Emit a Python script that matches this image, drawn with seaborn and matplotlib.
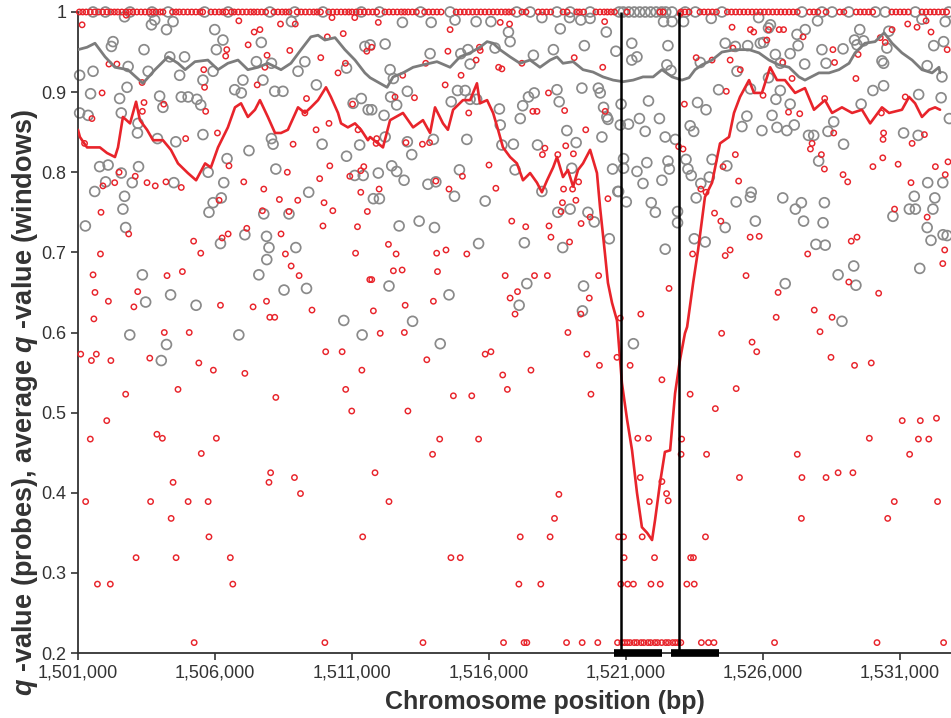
import numpy as np
import pandas as pd
import seaborn as sns
import matplotlib.pyplot as plt
from matplotlib.ticker import FuncFormatter

# positions are kb offsets from 1,501,000 bp
START = 1501000

# probe q-values (grey = one sample set, red = other)
grey_kb = [1.70, 2.68, 2.80, 3.23, 3.47, 4.99, 5.29, 5.05, 1.28, 1.22, 2.41, 6.69, 7.79, 0.06, 0.55,
           1.83, 2.56, 3.35, 3.89, 3.71, 4.56, 4.93, 6.02, 6.51, 7.06, 6.75, 7.18, 7.48, 5.72, 5.96,
           8.70, 8.28, 8.03, 9.80, 10.47, 10.59, 10.34, 10.04, 0.46, 1.52, 1.79, 2.98, 3.77, 4.02, 4.34,
           4.48, 3.10, 0.06, 0.37, 1.58, 2.19, 2.17, 2.90, 3.57, 4.56, 7.06, 7.12, 8.91, 10.28, 9.80,
           6.24, 5.44, 7.22, 0.79, 1.10, 2.21, 1.58, 1.01, 0.61, 1.98, 3.50, 4.75, 5.32, 4.93, 4.78,
           5.23, 8.42, 10.10, 10.41, 1.70, 1.64, 6.78, 7.70, 0.27, 1.74, 6.09, 6.88, 5.20, 6.97, 7.95,
           6.89, 6.60, 2.35, 8.34, 7.52, 3.38, 2.47, 4.31, 9.70, 1.89, 5.87, 10.37, 3.23, 3.04,
           11.84, 12.89, 13.76, 14.53, 15.07, 15.71, 15.77, 16.93, 17.60, 17.94, 18.35, 18.69, 19.28,
           11.21, 12.85, 13.97, 14.23, 15.22, 14.31, 16.62, 17.35, 18.48, 19.63, 11.39, 11.51, 10.66,
           12.02, 13.85, 14.13, 11.41, 11.63, 13.62, 14.31, 14.55, 15.38, 16.23, 16.44, 16.65, 16.14,
           17.48, 17.56, 18.39, 18.99, 19.06, 19.18, 19.30, 19.34, 11.17, 10.72, 15.41, 17.84, 19.12,
           18.18, 16.77, 15.89, 15.47, 14.19, 12.97, 12.02, 12.18, 11.21, 11.45, 11.63, 10.96, 11.90,
           13.92, 12.77, 13.06, 15.95, 16.93, 18.02, 19.51, 19.70, 10.78, 11.00, 13.74, 14.86, 17.96,
           17.51, 18.61, 18.84, 11.72, 12.45, 13.01, 14.62, 16.29, 17.69, 19.39, 11.35, 13.54, 16.38,
           18.45, 16.10, 18.41, 12.21, 13.22, 20.27,
           19.82, 19.79, 19.91, 19.91, 19.73, 20.09, 20.21, 20.40, 20.21, 20.49, 20.70, 20.76, 20.40,
           20.62, 20.01, 20.92, 21.07, 20.82, 21.22, 21.31,
           21.37, 21.68, 22.10, 23.11, 24.84, 25.27, 25.20, 26.24, 26.54, 26.99, 28.53, 29.59, 31.65,
           30.80, 21.53, 23.62, 23.99, 24.44, 24.90, 25.02, 26.28, 25.99, 27.15, 27.92, 28.34, 28.67,
           28.43, 29.52, 31.23, 31.59, 21.49, 21.64, 22.71, 24.05, 25.45, 25.63, 26.52, 27.30, 29.34,
           29.40, 30.99, 31.53, 23.38, 24.54, 25.20, 29.01, 29.40, 30.68, 22.61, 22.92, 25.47, 25.99,
           25.63, 28.58, 31.50, 31.80, 24.41, 25.33, 27.58, 22.34, 22.47, 24.23, 24.96, 25.51, 25.87,
           26.14, 26.66, 26.85, 27.37, 30.13, 30.66, 27.94, 21.43, 21.80, 22.19, 21.53, 21.58, 22.26,
           22.38, 23.14, 23.68, 27.03, 22.73, 23.04, 22.56, 24.02, 24.54, 24.57, 25.72, 26.40, 26.18,
           27.24, 26.48, 27.19, 24.72, 23.62, 22.49, 22.89, 26.93, 27.27, 31.01, 31.56, 30.52, 31.27,
           30.34, 30.56, 31.20, 29.74, 30.99, 31.13, 31.57, 31.72, 28.31, 27.74, 28.39, 30.72, 25.81,
           27.88, 21.88, 21.88, 21.43]
grey_q = [.994, .984, .990, .978, .988, .978, .965, .953, .963, .957, .953, .962, .988, .921, .926,
          .932, .926, .944, .944, .921, .915, .926, .915, .938, .936, .915, .901, .901, .903, .899,
          .909, .938, .926, .930, .957, .878, .892, .886, .898, .892, .906, .895, .894, .894, .891,
          .884, .881, .874, .871, .874, .861, .849, .842, .838, .847, .842, .835, .835, .834, .820,
          .827, .817, .804, .807, .809, .807, .799, .788, .776, .787, .787, .800, .787, .762, .750,
          .768, .775, .796, .796, .770, .754, .748, .748, .733, .731, .722, .720, .711, .706, .706,
          .691, .672, .672, .655, .653, .647, .638, .634, .615, .597, .597, .597, .585, .565,
          .987, .987, .990, .988, .988, .975, .963, .993, .979, .993, .990, .992, .975,
          .960, .948, .948, .953, .955, .935, .946, .953, .958, .951, .928, .917, .959,
          .901, .902, .902, .894, .884, .888, .891, .891, .879, .883, .894, .899, .867,
          .903, .888, .905, .905, .899, .881, .869, .866, .871, .878, .859, .852, .844,
          .837, .834, .835, .834, .841, .841, .838, .822, .844, .808, .801, .799, .790,
          .803, .785, .788, .803, .776, .805, .804, .776, .767, .767, .770, .764, .754,
          .750, .750, .738, .733, .739, .731, .711, .712, .706, .717, .658, .647, .661,
          .658, .634, .627, .614, .586, .586,
          .885, .859, .817, .805, .776, .860, .961, .944, .940, .867, .851, .812, .801,
          .786, .763, .762, .750, .889, .867, .790,
          .988, .988, .988, .992, .993, .984, .980, .972, .978, .989, .978, .976, .988,
          .991, .958, .961, .957, .958, .961, .962, .958, .948, .953, .954, .965, .964,
          .959, .955, .958, .963, .934, .927, .937, .926, .947, .936, .935, .936, .939,
          .936, .933, .919, .903, .904, .918, .902, .908, .897, .887, .878, .891, .885,
          .902, .885, .893, .867, .870, .871, .863, .858, .851, .857, .852, .856, .852,
          .859, .846, .846, .851, .849, .846, .835, .844, .841, .816, .814, .804, .804,
          .796, .816, .808, .814, .786, .794, .768, .763, .769, .775, .768, .762, .754,
          .762, .739, .737, .739, .731, .717, .713, .710, .709, .787, .787, .770, .768,
          .754, .754, .754, .745, .731, .715, .722, .721, .683, .672, .659, .680, .661,
          .614, .751, .737, .704]

red_kb = [0.15, 1.76, 5.87, 7.39, 7.93, 9.27, 10.10, 6.43, 6.64, 6.21, 5.43, 5.39, 6.90, 7.73, 9.10,
          9.68, 10.54, 8.86, 1.13, 1.42, 4.59, 6.82, 9.76, 9.49, 2.34, 4.62, 0.88, 6.54, 8.34, 2.41,
          3.13, 10.02, 4.66, 2.35, 8.28, 0.51, 9.16, 8.69, 10.22, 5.09, 3.93, 0.24, 7.85, 5.51, 9.19,
          10.43, 1.50, 2.09, 7.64, 8.82, 9.92, 10.32, 0.91, 1.34, 2.52, 2.82, 3.21, 3.77, 6.05, 6.78,
          5.15, 7.35, 8.02, 8.98, 10.32, 0.84, 6.73, 7.70, 9.30, 10.56, 1.85, 4.22, 5.26, 5.48, 6.16,
          7.41, 8.94, 10.20, 0.82, 4.48, 7.57, 10.13, 7.78, 8.07, 0.55, 3.25, 3.81, 10.65, 0.62, 2.18,
          1.11, 2.04, 5.20, 6.39, 6.88, 8.54, 0.58, 7.00, 7.18, 3.15, 4.06,
          0.10, 0.67, 0.49, 1.20, 2.62, 4.41, 4.94, 6.09, 9.04, 9.64, 10.36, 1.74, 3.65, 7.22, 9.77,
          9.99, 1.05, 0.45, 2.88, 3.08, 5.05, 4.50, 7.03, 6.97, 7.90, 8.12, 3.47, 0.28, 2.65, 4.02,
          4.75, 3.40, 4.78, 10.39, 2.12, 3.58, 5.56, 0.71, 1.18, 5.65, 4.24, 9.01,
          10.96, 13.58, 15.41, 15.75, 19.22, 10.72, 13.50, 14.65, 14.68, 14.53, 12.69, 15.35, 15.47,
          16.20, 18.11, 19.15, 11.85, 13.98, 13.40, 12.28, 11.57, 17.17, 16.60, 16.75, 17.76, 14.26,
          19.24, 18.53, 10.90, 10.88, 11.97, 12.57, 12.83, 17.04, 16.95, 17.80, 17.51, 18.08, 15.00,
          14.03, 13.06, 10.99, 13.54, 15.25, 17.72, 18.05, 18.27, 18.17, 17.68, 17.63, 19.34, 18.36,
          18.69, 15.83, 16.34, 17.19, 17.26, 17.94, 11.33, 11.61, 13.43, 13.09, 14.19, 11.51, 11.83,
          13.12, 10.72, 15.59, 16.66, 17.13, 19.00, 16.04, 15.77, 18.66, 11.94, 12.97, 10.78, 15.95,
          18.35, 20.54, 19.79, 11.91, 17.88, 11.03,
          12.73, 14.86, 15.07, 18.57, 19.03, 19.67, 20.15, 15.50, 16.53, 15.67, 18.72, 13.70, 14.37,
          12.04, 13.20, 14.62, 12.94, 10.84, 11.35, 17.55, 17.39, 16.14, 17.23, 13.61, 13.95, 16.09,
          16.89, 12.59, 15.53, 16.28, 16.38, 17.83, 18.40, 18.97, 19.69,
          19.73, 19.91, 20.43, 20.82, 20.52, 20.85, 20.59, 19.93, 21.04, 19.81, 20.06, 20.27, 20.91,
          21.25, 21.31, 21.57, 22.34, 23.26, 24.02, 23.49, 22.03, 22.01, 22.94, 24.14, 21.31, 21.48,
          21.54, 22.90, 22.36, 22.46,
          27.08, 24.60, 24.77, 27.48, 28.34, 28.95, 22.22, 22.49, 26.25, 26.42, 26.40, 27.30, 27.74,
          28.28, 28.88, 29.55, 29.79, 30.08, 30.35, 30.67, 30.74, 31.05, 31.33, 31.37, 22.75, 23.01,
          23.21, 25.42, 29.16, 31.59,
          19.85, 19.95, 20.05, 20.15, 20.30, 20.40, 20.55, 20.65, 20.80, 20.90, 21.05, 21.15, 21.30,
          21.45, 21.55, 21.70, 21.80, 21.90, 22.00,
          21.98, 23.87, 24.54, 24.66, 25.20, 25.59, 25.75, 26.46, 25.14, 23.90, 23.80, 22.56, 23.14,
          24.17, 25.72, 27.55, 27.61, 28.47, 29.28, 29.46, 29.71, 30.28, 30.62, 30.95, 31.13, 31.72,
          28.39, 26.06, 23.66, 25.00, 27.25, 30.19, 22.13, 25.93, 26.34, 29.32, 27.58, 29.40, 29.38,
          30.89, 30.44, 26.79, 26.73, 22.08, 21.92, 23.99, 27.13, 23.54, 27.24, 29.01, 29.37, 29.93,
          31.29, 31.75, 31.65, 24.11, 27.92, 28.09, 30.40, 22.73, 22.92, 29.80, 23.23, 30.99, 23.46,
          24.53, 24.86, 28.22, 28.43, 23.80, 23.62, 26.63, 31.63, 22.43, 31.56, 24.38, 28.13, 25.55,
          29.22, 26.87, 25.48, 27.52]
red_q = [.984, .996, .989, .985, .985, .993, .993, .975, .978, .959, .953, .945, .946, .952, .969,
         .973, .951, .943, .935, .935, .928, .931, .936, .924, .912, .906, .899, .909, .892, .887,
         .885, .885, .876, .876, .874, .867, .861, .853, .853, .849, .842, .836, .835, .808, .808,
         .807, .800, .795, .800, .792, .795, .802, .783, .787, .787, .783, .788, .781, .788, .779,
         .765, .766, .765, .762, .775, .750, .752, .751, .752, .751, .723, .714, .718, .723, .730,
         .723, .733, .732, .698, .699, .698, .699, .683, .671, .672, .671, .676, .666, .650, .651,
         .639, .632, .634, .632, .639, .628, .617, .619, .619, .600, .600,
         .573, .573, .565, .565, .568, .562, .553, .549, .576, .576, .553, .523, .529, .519, .529,
         .502, .490, .467, .473, .468, .468, .449, .425, .413, .419, .399, .413, .389, .389, .389,
         .389, .368, .345, .345, .319, .319, .319, .286, .286, .286, .213, .213,
         .987, .978, .987, .985, .988, .956, .951, .956, .952, .940, .936, .931, .929,
         .936, .943, .931, .921, .921, .909, .893, .894, .899, .876, .876, .877, .874,
         .876, .853, .842, .836, .837, .835, .837, .830, .822, .833, .822, .823, .809,
         .795, .789, .779, .779, .780, .779, .779, .788, .765, .762, .751, .767, .736,
         .744, .739, .732, .733, .719, .713, .710, .698, .703, .699, .698, .677, .678,
         .676, .666, .671, .671, .671, .671, .651, .643, .643, .634, .639, .627, .623,
         .623, .623, .618, .600, .600, .599,
         .566, .573, .576, .573, .559, .569, .559, .547, .553, .529, .523, .521, .521,
         .502, .467, .467, .448, .425, .389, .398, .368, .345, .345, .319, .319, .286,
         .286, .213, .213, .213, .213, .213, .213, .213, .213,
         .345, .345, .468, .468, .419, .389, .345, .319, .319, .286, .286, .286, .286,
         .286, .541, .655, .523, .505, .530, .599, .467, .448, .448, .419, .414, .399,
         .390, .345, .319, .319,
         .601, .588, .576, .569, .559, .562, .286, .286, .448, .419, .368, .419, .425,
         .425, .468, .368, .389, .490, .448, .467, .490, .467, .493, .389, .213, .213,
         .213, .213, .213, .213,
         .213, .213, .213, .213, .213, .213, .213, .213, .213, .213, .213, .213, .213,
         .213, .213, .213, .213, .213, .213,
         .998, .981, .978, .975, .978, .978, .978, .969, .965, .955, .940, .943, .940,
         .928, .937, .953, .937, .947, .968, .962, .978, .985, .981, .989, .975, .953,
         .917, .917, .901, .896, .892, .894, .885, .875, .873, .874, .849, .849, .841,
         .847, .836, .836, .829, .829, .832, .822, .822, .807, .804, .807, .818, .810,
         .807, .813, .797, .789, .797, .788, .787, .779, .775, .754, .749, .744, .739,
         .719, .720, .714, .719, .703, .696, .698, .703, .698, .686, .671, .663, .650,
         .649, .628, .619, .619]

# probes with q = 1 (top row, densely packed)
grey_top_kb = [0.55, 1.0, 1.9, 2.7, 3.29, 4.62, 5.48, 7.0, 7.91, 8.94, 10.34, 11.0, 12.5, 13.58,
               16.01, 16.5, 17.48, 17.96, 18.69, 19.75, 19.9, 20.1, 20.3, 20.5, 20.7, 20.9, 21.1,
               21.3, 21.45, 21.68, 22.16, 22.53, 23.5, 26.42, 27.15, 27.52, 28.13, 29.1, 29.46,
               30.56, 31.78]
red_top_kb = [0.05, 0.17, 0.3, 0.45, 0.6, 0.75, 0.9, 1.05, 1.2, 1.33, 1.45, 1.6, 1.75, 1.88, 2.0,
              2.15, 2.3, 2.45, 2.6, 2.72, 2.85, 3.0, 3.1, 3.45, 3.58, 3.7, 3.85, 4.0, 4.15, 4.3,
              4.45, 4.55, 4.85, 5.0, 5.15, 5.28, 5.4, 5.6, 5.7, 5.85, 6.0, 6.15, 6.3, 6.42, 6.55,
              6.7, 6.85, 7.15, 7.3, 7.45, 7.58, 7.7, 8.0, 8.15, 8.3, 8.45, 8.6, 8.72, 8.85, 9.15,
              9.3, 9.45, 9.6, 9.75, 9.88, 10.0, 10.15, 10.3, 10.45, 10.6, 10.75, 10.9, 11.2, 11.35,
              11.5, 11.65, 11.8, 11.92, 12.05, 12.2, 12.35, 12.65, 12.8, 12.95, 13.1, 13.25, 13.8,
              13.95, 14.1, 14.25, 14.4, 14.55, 14.7, 14.85, 15.0, 15.15, 15.3, 15.45, 15.6, 15.72,
              15.85, 16.2, 16.35, 16.8, 16.95, 17.1, 17.25, 17.7, 17.85, 18.2, 18.3, 18.45, 18.9,
              19.05, 19.2, 19.32, 19.45, 19.58, 20.04, 21.24, 21.35, 22.0, 22.15, 22.3, 22.7, 22.85,
              23.0, 23.15, 23.3, 23.7, 23.85, 24.0, 24.15, 24.3, 24.45, 24.6, 24.75, 24.9, 25.05,
              25.2, 25.35, 25.5, 25.65, 25.8, 25.95, 26.1, 26.25, 26.7, 26.85, 27.0, 27.3, 27.8,
              27.95, 28.4, 28.55, 28.7, 28.85, 29.0, 29.7, 29.85, 30.0, 30.15, 30.3, 30.8, 30.95,
              31.1, 31.25, 31.4, 31.55, 31.7]

# window averages
grey_line_kb = [0, .33, .62, .99, 1.35, 1.82, 2.37, 2.81, 3.28, 3.65, 3.91, 4.27, 4.74, 5.11, 5.47,
                5.84, 6.20, 6.57, 6.93, 7.41, 7.77, 8.14, 8.50, 8.76, 9.01, 9.38, 9.74, 10.11, 10.47,
                10.66, 11.28, 11.50, 11.86, 12.23, 12.59, 13.10, 13.58, 13.94, 14.31, 14.67, 14.93,
                15.15, 15.40, 15.77, 16.13, 16.50, 16.86, 17.23, 17.48, 17.70, 18.07, 18.43, 18.80,
                19.16, 19.53, 19.89, 20.26, 20.62, 20.99, 21.31, 21.68, 22.04, 22.30, 22.52, 22.77,
                23.14, 23.50, 23.98, 24.49, 24.85, 25.22, 25.58, 25.95, 26.31, 26.53, 27.04, 27.41,
                27.77, 28.14, 28.36, 28.72, 29.09, 29.42, 29.71, 30.07, 30.44, 30.80, 31.17, 31.42,
                31.46]
grey_line_q = [.953, .956, .961, .944, .931, .928, .911, .928, .944, .936, .928, .938, .940, .928,
               .936, .940, .928, .931, .936, .928, .936, .953, .969, .971, .965, .968, .953, .940,
               .924, .918, .906, .919, .924, .931, .934, .938, .931, .944, .949, .956, .963, .961,
               .953, .944, .936, .940, .931, .940, .944, .936, .938, .928, .925, .919, .915, .913,
               .915, .919, .919, .928, .919, .915, .918, .928, .934, .940, .950, .953, .953, .949,
               .940, .934, .931, .919, .915, .924, .924, .928, .936, .949, .961, .963, .974, .961,
               .949, .940, .928, .924, .931, .924]

red_line_kb = [0, .07, .33, .80, 1.06, 1.35, 1.46, 1.64, 1.90, 2.12, 2.26, 2.52, 2.74, 3.10, 3.39,
               3.65, 4.01, 4.31, 4.64, 4.85, 5.11, 5.47, 5.73, 5.95, 6.20, 6.46, 6.64, 6.93, 7.19,
               7.41, 7.66, 8.03, 8.28, 8.50, 8.76, 9.05, 9.23, 9.49, 9.60, 9.85, 10.11, 10.33, 10.58,
               10.66, 11.13, 11.39, 11.86, 12.23, 12.59, 12.85, 13.03, 13.32, 13.50, 13.69, 14.05,
               14.31, 14.56, 14.67, 14.93, 15.15, 15.33, 15.51, 15.77, 16.02, 16.24, 16.50, 16.75,
               16.93, 17.12, 17.34, 17.48, 17.70, 17.88, 18.07, 18.25, 18.43, 18.69, 18.94, 19.05,
               19.23, 19.34, 19.49, 19.67, 19.85, 20.04, 20.22, 20.40, 20.58, 20.77, 20.95, 21.06,
               21.24, 21.42, 21.61, 21.79, 21.97, 22.15, 22.23, 22.45, 22.63, 22.88, 23.14, 23.43,
               23.76, 23.94, 24.16, 24.49, 24.67, 24.96, 25.26, 25.51, 25.80, 26.17, 26.53, 26.86,
               27.26, 27.52, 27.88, 28.25, 28.61, 28.91, 29.34, 29.60, 30.07, 30.33, 30.55, 30.80,
               31.06, 31.28, 31.46]
red_line_q = [.853, .844, .831, .831, .824, .819, .831, .869, .861, .888, .865, .853, .840, .840,
              .828, .811, .799, .790, .811, .806, .831, .856, .881, .886, .869, .878, .890, .869,
              .849, .849, .853, .881, .874, .881, .890, .906, .894, .874, .861, .856, .861, .853,
              .840, .844, .831, .865, .874, .856, .865, .849, .881, .861, .853, .878, .890, .890,
              .911, .886, .890, .874, .853, .831, .819, .811, .790, .799, .787, .775, .790, .806,
              .819, .794, .803, .782, .803, .811, .828, .799, .757, .699, .662, .637, .615, .537,
              .491, .453, .400, .357, .350, .341, .366, .412, .451, .453, .524, .566, .599, .607,
              .662, .703, .769, .787, .836, .844, .874, .894, .915, .899, .899, .931, .915, .915,
              .899, .905, .878, .890, .874, .881, .874, .878, .861, .881, .874, .878, .894, .886,
              .869, .878, .881, .878]

# region boundaries (kb offsets)
region_edges = [19.82, 21.92]
bar_spans = [(19.56, 21.32), (21.65, 23.40)]

GREY = '#8a8a8a'
RED = '#e8242b'

sns.set_theme(style='ticks')
plt.rcParams['font.family'] = ['Liberation Sans', 'DejaVu Sans']
plt.rcParams['mathtext.fontset'] = 'custom'
plt.rcParams['mathtext.bfit'] = 'Liberation Sans:italic:bold'
plt.rcParams['mathtext.it'] = 'Liberation Sans:italic'
plt.rcParams['mathtext.rm'] = 'Liberation Sans'

grey_pts = pd.DataFrame({'pos': np.array(grey_kb + grey_top_kb) * 1000 + START,
                         'q': grey_q + [1.0] * len(grey_top_kb)})
red_pts = pd.DataFrame({'pos': np.array(red_kb + red_top_kb) * 1000 + START,
                        'q': red_q + [1.0] * len(red_top_kb)})
grey_win = pd.DataFrame({'pos': np.array(grey_line_kb) * 1000 + START, 'q': grey_line_q})
red_win = pd.DataFrame({'pos': np.array(red_line_kb) * 1000 + START, 'q': red_line_q})

fig = plt.figure(figsize=(9.51, 7.18), dpi=100)
ax = fig.add_axes([0.082, 0.0905, 0.918, 0.8928])

sns.scatterplot(data=grey_pts, x='pos', y='q', ax=ax, s=50, marker='o',
                facecolor='none', edgecolor=GREY, linewidth=1.25, clip_on=False, zorder=2)
sns.scatterplot(data=red_pts, x='pos', y='q', ax=ax, s=15, marker='o',
                facecolor='none', edgecolor=RED, linewidth=1.05, clip_on=False, zorder=3)
sns.lineplot(data=grey_win, x='pos', y='q', ax=ax, color='#7c7c7c', lw=2.0, zorder=4)
sns.lineplot(data=red_win, x='pos', y='q', ax=ax, color=RED, lw=1.9, zorder=5)

for e in region_edges:
    ax.vlines(e * 1000 + START, 0.2, 1.0, color='black', lw=1.8, zorder=6)
for a, b in bar_spans:
    ax.hlines(0.2, a * 1000 + START, b * 1000 + START, color='black', lw=5.5,
              zorder=7, clip_on=False)

ax.set_xlim(START, START + 31860)
ax.set_ylim(0.2, 1.0)
ax.set_xticks(np.arange(1501000, 1532000, 5000))
ax.xaxis.set_major_formatter(FuncFormatter(lambda v, p: f'{int(v):,}'))
ax.set_yticks([0.2, 0.3, 0.4, 0.5, 0.6, 0.7, 0.8, 0.9, 1.0])
ax.yaxis.set_major_formatter(FuncFormatter(lambda v, p: f'{v:g}'))
ax.tick_params(labelsize=13, colors='#333333', length=5, width=1.2, direction='out')

ax.set_xlabel('Chromosome position (bp)', fontsize=18, fontweight='bold', color='#333333')
ax.xaxis.set_label_coords(0.535, -0.058)
ax.set_ylabel(r'$\mathbfit{q}$ -value (probes), average $\mathbfit{q}$ -value (windows)',
              fontsize=19.5, fontweight='bold', color='#333333')
ax.yaxis.set_label_coords(-0.043, 0.39)

sns.despine(ax=ax)
for sp in ['left', 'bottom']:
    ax.spines[sp].set_color('#333333')
    ax.spines[sp].set_linewidth(1.3)

fig.savefig('out.png', dpi=100)
